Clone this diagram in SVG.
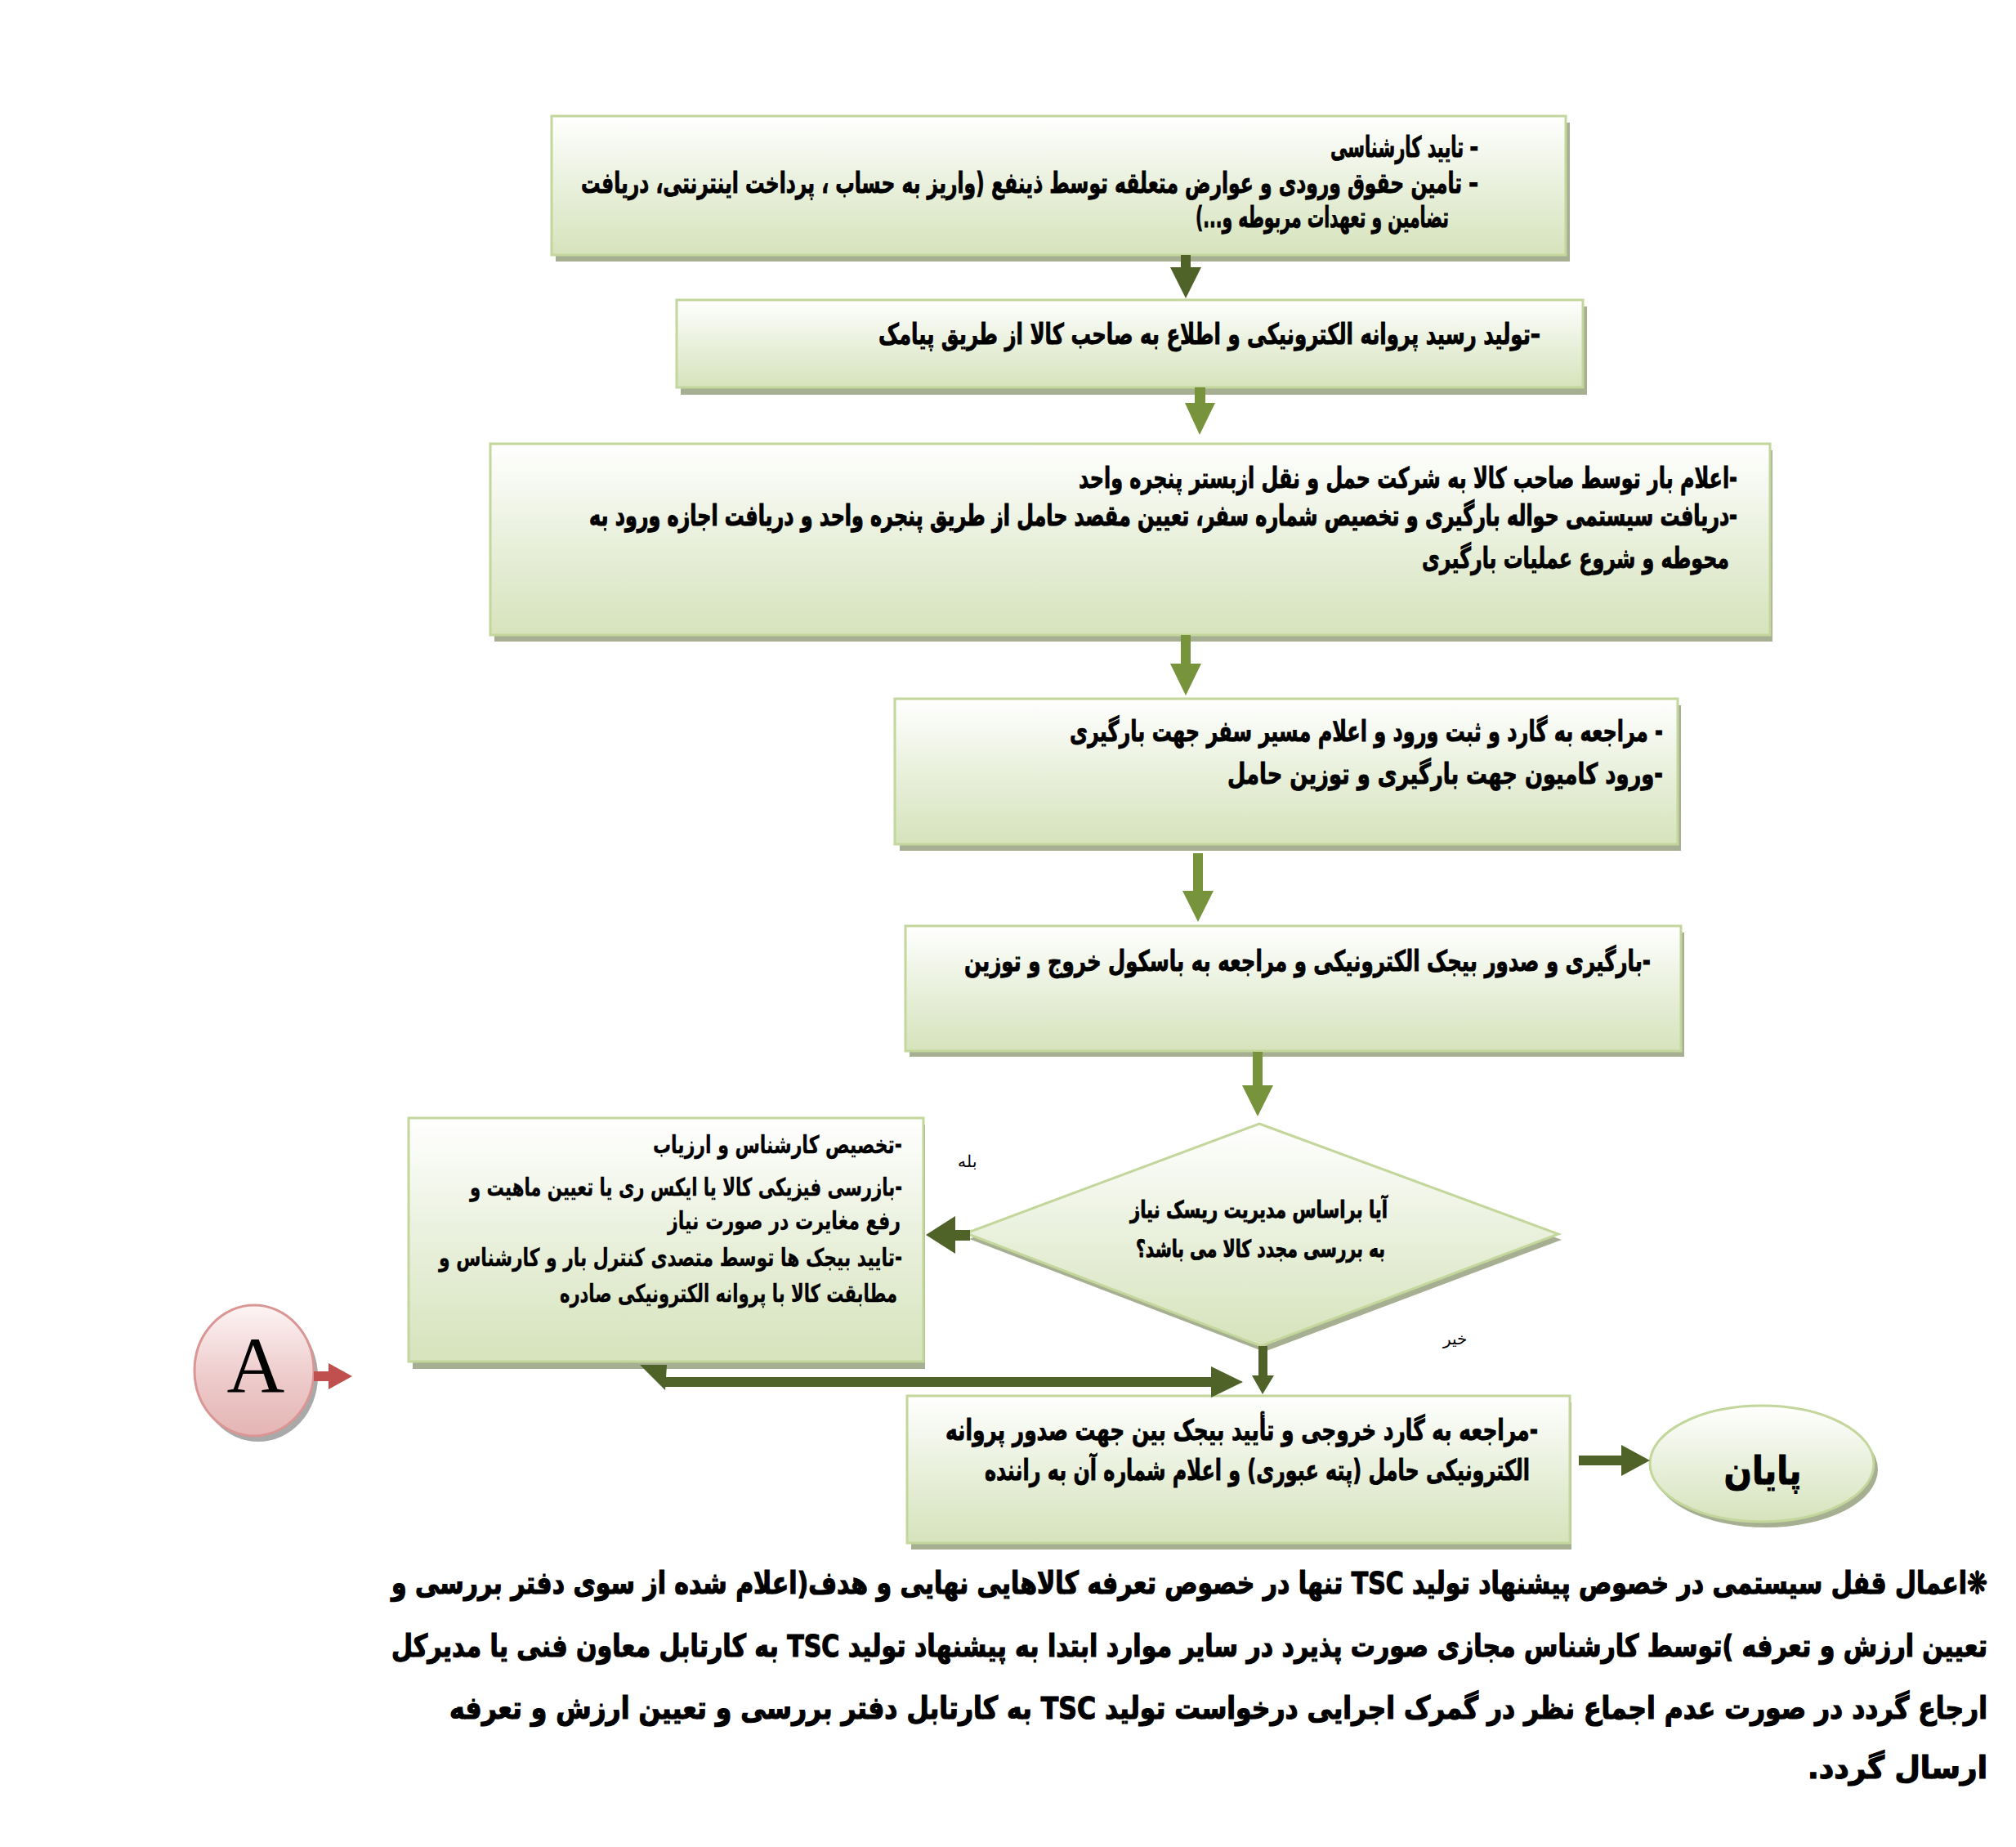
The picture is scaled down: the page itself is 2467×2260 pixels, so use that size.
<svg xmlns="http://www.w3.org/2000/svg" width="2467" height="2260" viewBox="0 0 2467 2260">
<defs>
<linearGradient id="gBox" x1="0" y1="0" x2="0" y2="1">
<stop offset="0" stop-color="#ffffff"/>
<stop offset="0.5" stop-color="#e9f0dc"/>
<stop offset="1" stop-color="#d6e3bc"/>
</linearGradient>
<linearGradient id="gPink" x1="0" y1="0" x2="0" y2="1">
<stop offset="0" stop-color="#fdf4f4"/>
<stop offset="0.55" stop-color="#eecbcb"/>
<stop offset="1" stop-color="#e4b5b4"/>
</linearGradient>
<style>
.box{fill:url(#gBox);stroke:#c3d69b;stroke-width:3}
.shadow{fill:#a6af92}
.t{font-family:"DejaVu Sans Condensed","DejaVu Sans","Noto Sans",sans-serif;font-weight:bold;fill:#000;stroke:#000;stroke-width:0.8;direction:rtl;text-anchor:middle}
.n{stroke-width:0.3}
.h{stroke-width:1}
.dk{fill:#4f6228}
.lt{fill:#77933c}
.lbl{font-family:"DejaVu Serif","Liberation Serif",serif;fill:#000;direction:rtl;text-anchor:middle;font-size:20px}
</style>
</defs>
<rect width="2467" height="2260" fill="#ffffff"/>

<g id="box1">
<rect class="shadow" x="680" y="150" width="1241" height="170"/>
<rect class="box" x="675" y="142" width="1241" height="170"/>
<text class="t" x="1718.5" y="192" font-size="35" textLength="181" lengthAdjust="spacingAndGlyphs">–   تایید کارشناسی</text>
<text class="t" x="1260" y="236" font-size="35" textLength="1098" lengthAdjust="spacingAndGlyphs">–   تامین حقوق ورودی و عوارض متعلقه توسط ذینفع (واریز به حساب ، پرداخت اینترنتی، دریافت</text>
<text class="t" x="1618" y="278" font-size="35" textLength="310" lengthAdjust="spacingAndGlyphs">تضامین و تعهدات مربوطه و...)</text>
</g>

<g id="box2">
<rect class="shadow" x="833" y="375" width="1109" height="108"/>
<rect class="box" x="828" y="367" width="1109" height="107"/>
<text class="t" x="1480" y="421" font-size="35" textLength="810" lengthAdjust="spacingAndGlyphs">–تولید رسید پروانه الکترونیکی  و اطلاع به صاحب کالا از طریق پیامک</text>
</g>

<g id="box3">
<rect class="shadow" x="605" y="551" width="1564" height="234"/>
<rect class="box" x="600" y="543" width="1566" height="234"/>
<text class="t" x="1723" y="597" font-size="35" textLength="806" lengthAdjust="spacingAndGlyphs">-اعلام بار توسط صاحب کالا به شرکت حمل و نقل ازبستر پنجره واحد</text>
<text class="t" x="1423.5" y="494.6" font-size="27" transform="scale(1,1.3)" textLength="1405" lengthAdjust="spacingAndGlyphs">-دریافت سیستمی حواله بارگیری و تخصیص شماره سفر، تعیین مقصد حامل از طریق پنجره واحد و دریافت اجازه ورود به</text>
<text class="t" x="1928" y="695" font-size="35" textLength="376" lengthAdjust="spacingAndGlyphs">محوطه و شروع عملیات بارگیری</text>
</g>

<g id="box4">
<rect class="shadow" x="1101" y="863" width="956" height="178"/>
<rect class="box" x="1095" y="855" width="958" height="178"/>
<text class="t" x="1672" y="907" font-size="35" textLength="726" lengthAdjust="spacingAndGlyphs">- مراجعه به گارد و ثبت ورود و اعلام مسیر سفر جهت بارگیری</text>
<text class="t" x="1768.5" y="959" font-size="35" textLength="533" lengthAdjust="spacingAndGlyphs">-ورود  کامیون جهت بارگیری و توزین حامل</text>
</g>

<g id="box5">
<rect class="shadow" x="1113" y="1141" width="948" height="152"/>
<rect class="box" x="1108" y="1133" width="949" height="153"/>
<text class="t" x="1600" y="1188" font-size="35" textLength="840" lengthAdjust="spacingAndGlyphs">-بارگیری و صدور بیجک الکترونیکی و مراجعه به باسکول خروج و توزین</text>
</g>

<g id="decision">
<polygon class="shadow" points="1545,1382 1911,1517 1547,1654 1186,1516"/>
<polygon class="box" points="1541,1375 1907,1510 1543,1647 1182,1509"/>
<text class="t" x="1540.5" y="1490" font-size="29" textLength="315" lengthAdjust="spacingAndGlyphs">آیا براساس مدیریت ریسک نیاز</text>
<text class="t" x="1542.5" y="1538" font-size="29" textLength="305" lengthAdjust="spacingAndGlyphs">به بررسی مجدد کالا می باشد؟</text>
</g>

<g id="box6">
<rect class="shadow" x="505" y="1376" width="627" height="299"/>
<rect class="box" x="500" y="1368" width="630" height="298"/>
<text class="t n" x="951.5" y="1411" font-size="30" textLength="305" lengthAdjust="spacingAndGlyphs">-تخصیص کارشناس و ارزیاب</text>
<text class="t n" x="839.5" y="1463" font-size="30" textLength="529" lengthAdjust="spacingAndGlyphs">-بازرسی فیزیکی کالا یا ایکس ری یا تعیین ماهیت و</text>
<text class="t n" x="959.5" y="1504" font-size="30" textLength="285" lengthAdjust="spacingAndGlyphs">رفع مغایرت در صورت نیاز</text>
<text class="t n" x="820.5" y="1549" font-size="30" textLength="567" lengthAdjust="spacingAndGlyphs">-تایید بیجک ها توسط متصدی کنترل بار و کارشناس و</text>
<text class="t n" x="891.5" y="1593" font-size="30" textLength="413" lengthAdjust="spacingAndGlyphs">مطابقت کالا با پروانه الکترونیکی صادره</text>
</g>

<g id="box7">
<rect class="shadow" x="1115" y="1716" width="808" height="180"/>
<rect class="box" x="1110" y="1708" width="811" height="180"/>
<text class="t" x="1519.5" y="1762" font-size="35" textLength="725" lengthAdjust="spacingAndGlyphs">-مراجعه به گارد خروجی و تأیید بیجک بین جهت صدور پروانه</text>
<text class="t" x="1538.5" y="1811" font-size="35" textLength="667" lengthAdjust="spacingAndGlyphs">الکترونیکی حامل (پته عبوری) و اعلام شماره آن به راننده</text>
</g>

<g id="end">
<ellipse class="shadow" cx="2161" cy="1798" rx="137" ry="71"/>
<ellipse class="box" cx="2156" cy="1791" rx="137" ry="71" stroke-width="4"/>
<text class="t h" x="2157" y="1816" font-size="48" textLength="95" lengthAdjust="spacingAndGlyphs">پایان</text>
</g>

<g id="connectorA">
<ellipse cx="316" cy="1684" rx="73" ry="80" fill="#a9a9a9"/>
<ellipse cx="311" cy="1677" rx="73" ry="80" fill="url(#gPink)" stroke="#d99694" stroke-width="3"/>
<text x="313" y="1703" font-family="Liberation Serif, serif" font-size="98" text-anchor="middle" fill="#000">A</text>
</g>

<g id="note">
<text class="t h" x="1455.5" y="1642.1" font-size="32" transform="scale(1,1.1875)" textLength="1953" lengthAdjust="spacingAndGlyphs">❋اعمال قفل سیستمی در خصوص پیشنهاد تولید TSC تنها در خصوص تعرفه کالاهایی نهایی و هدف(اعلام  شده از سوی دفتر بررسی و</text>
<text class="t h" x="1455.5" y="1706.9" font-size="32" transform="scale(1,1.1875)" textLength="1953" lengthAdjust="spacingAndGlyphs">تعیین ارزش و تعرفه )توسط کارشناس مجازی صورت پذیرد در سایر موارد ابتدا به پیشنهاد تولید TSC به کارتابل معاون فنی یا مدیرکل</text>
<text class="t h" x="1491" y="1770.9" font-size="32" transform="scale(1,1.1875)" textLength="1882" lengthAdjust="spacingAndGlyphs">ارجاع گردد در صورت عدم اجماع نظر در گمرک اجرایی درخواست تولید TSC به کارتابل  دفتر بررسی و تعیین ارزش و تعرفه</text>
<text class="t h" x="2322" y="1832.4" font-size="32" transform="scale(1,1.1875)" textLength="220" lengthAdjust="spacingAndGlyphs">ارسال گردد.</text>
</g>

<g id="connectors">
<rect class="dk" x="1445" y="312" width="12" height="16"/>
<polygon class="dk" points="1432,327 1470,327 1451,365"/>
<rect class="lt" x="1462" y="474" width="13" height="20"/>
<polygon class="lt" points="1450,493 1487,493 1468,532"/>
<rect class="lt" x="1445" y="777" width="12" height="36"/>
<polygon class="lt" points="1432,812 1470,812 1451,851"/>
<rect class="lt" x="1460" y="1044" width="12" height="47"/>
<polygon class="lt" points="1447,1090 1485,1090 1466,1128"/>
<rect class="lt" x="1533" y="1287" width="12" height="42"/>
<polygon class="lt" points="1520,1328 1558,1328 1539,1366"/>
<rect class="dk" x="1167" y="1505" width="20" height="13"/>
<polygon class="dk" points="1133,1511 1169,1488 1169,1534"/>
<rect class="dk" x="1540" y="1647" width="11" height="37"/>
<polygon class="dk" points="1532,1683 1559,1683 1545,1706"/>
<rect class="dk" x="813" y="1685" width="671" height="12"/>
<polygon class="dk" points="1482,1672 1482,1710 1521,1691"/>
<polygon class="dk" points="783,1670 816,1670 814,1701"/>
<rect class="dk" x="1932" y="1781" width="53" height="12"/>
<polygon class="dk" points="1984,1768 1984,1806 2019,1787"/>
<rect x="384" y="1678" width="19" height="12" fill="#c0504d"/>
<polygon points="402,1668 402,1700 431,1684" fill="#c0504d"/>
<text class="lbl" x="1184" y="1428">بله</text>
<text class="lbl" x="1780" y="1645">خیر</text>
</g>
</svg>
